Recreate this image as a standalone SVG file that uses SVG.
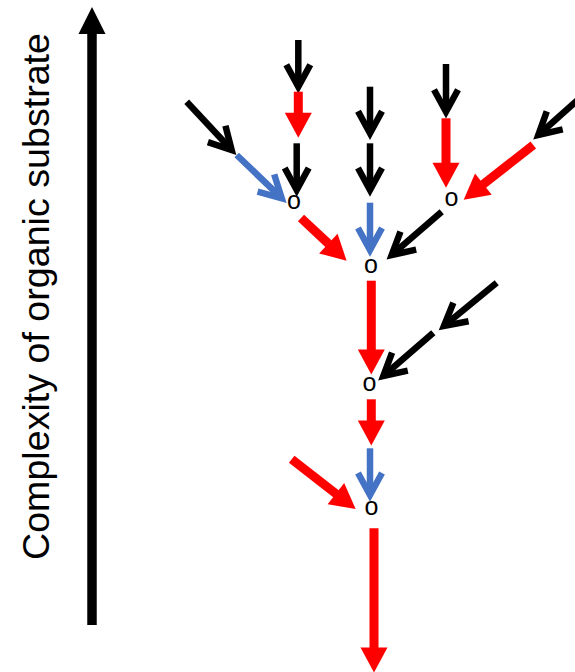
<svg xmlns="http://www.w3.org/2000/svg" width="575" height="672" viewBox="0 0 575 672">
<style>
  .lbl { font-family: "Liberation Sans", Arial, sans-serif; font-size: 37px; fill: #000; }
  .node { font-family: "Liberation Sans", Arial, sans-serif; font-size: 25px; fill: #000; text-anchor: middle; }
  .blk { stroke: #000; stroke-width: 6.5; fill: none; marker-end: url(#chevK); }
  .blu { stroke: #4472C4; stroke-width: 6.5; fill: none; marker-end: url(#chevB); }
  .red { stroke: #FF0000; stroke-width: 9; fill: none; marker-end: url(#headR); }
  .axis { stroke: #000; stroke-width: 9.5; fill: none; marker-end: url(#headK); }
</style>
<defs>
  <marker id="chevK" markerUnits="userSpaceOnUse" orient="auto" refX="-2" refY="0" overflow="visible">
    <path d="M-22,-12 L0,0 L-22,12" fill="none" stroke="#000" stroke-width="6.5" stroke-linejoin="miter" stroke-miterlimit="10"/>
  </marker>
  <marker id="chevB" markerUnits="userSpaceOnUse" orient="auto" refX="-2" refY="0" overflow="visible">
    <path d="M-22,-12 L0,0 L-22,12" fill="none" stroke="#4472C4" stroke-width="6.5" stroke-linejoin="miter" stroke-miterlimit="10"/>
  </marker>
  <marker id="headR" markerUnits="userSpaceOnUse" orient="auto" refX="0.5" refY="0" overflow="visible">
    <path d="M0,-13.5 L25,0 L0,13.5 z" fill="#FF0000"/>
  </marker>
  <marker id="headK" markerUnits="userSpaceOnUse" orient="auto" refX="0.5" refY="0" overflow="visible">
    <path d="M0,-13.5 L27,0 L0,13.5 z" fill="#000"/>
  </marker>
</defs>

<g id="axis">
  <line class="axis" x1="92" y1="625" x2="92" y2="33.5"/>
  <text class="lbl" transform="translate(48.5,560) rotate(-90)" x="0" y="0" textLength="527" lengthAdjust="spacingAndGlyphs">Complexity of organic substrate</text>
</g>

<g id="connectors">
  <line class="blk" x1="298.3" y1="40" x2="298.3" y2="84.7"/>
  <line class="blk" x1="296.7" y1="143.3" x2="296.7" y2="188"/>
  <line class="blk" x1="186.7" y1="101.7" x2="230.3" y2="148.5"/>
  <line class="blk" x1="370" y1="86.7" x2="370" y2="131.3"/>
  <line class="blk" x1="370" y1="143.3" x2="370" y2="188"/>
  <line class="blk" x1="446" y1="64" x2="446" y2="109.7"/>
  <line class="blk" x1="580" y1="98" x2="539.8" y2="133.7"/>
  <line class="blk" x1="441.7" y1="211.7" x2="393.2" y2="253.7"/>
  <line class="blk" x1="496.7" y1="282.7" x2="445.5" y2="324.7"/>
  <line class="blk" x1="433.3" y1="332.7" x2="384.8" y2="374.7"/>
  <line class="blu" x1="236.7" y1="155" x2="280.3" y2="196.9"/>
  <line class="blu" x1="370" y1="202.7" x2="370" y2="248"/>
  <line class="blu" x1="370" y1="448.3" x2="370" y2="493"/>
  <line class="red" x1="298.3" y1="91.7" x2="298.3" y2="113.3"/>
  <line class="red" x1="446" y1="118.3" x2="446" y2="163.3"/>
  <line class="red" x1="533.3" y1="145" x2="482.95" y2="184.55"/>
  <line class="red" x1="301" y1="218" x2="328.7" y2="243.9"/>
  <line class="red" x1="371.3" y1="280.7" x2="371.3" y2="350"/>
  <line class="red" x1="371.3" y1="399.3" x2="371.3" y2="421"/>
  <line class="red" x1="291.7" y1="459.3" x2="336.3" y2="494"/>
  <line class="red" x1="374" y1="528.3" x2="374" y2="648"/>
</g>

<g id="n1"><text class="node" x="294" y="208.5">o</text></g>
<g id="n2"><text class="node" x="371" y="272.5">o</text></g>
<g id="n3"><text class="node" x="451.5" y="205.5">o</text></g>
<g id="n4"><text class="node" x="369.5" y="390.5">o</text></g>
<g id="n5"><text class="node" x="371.5" y="514.5">o</text></g>
</svg>
